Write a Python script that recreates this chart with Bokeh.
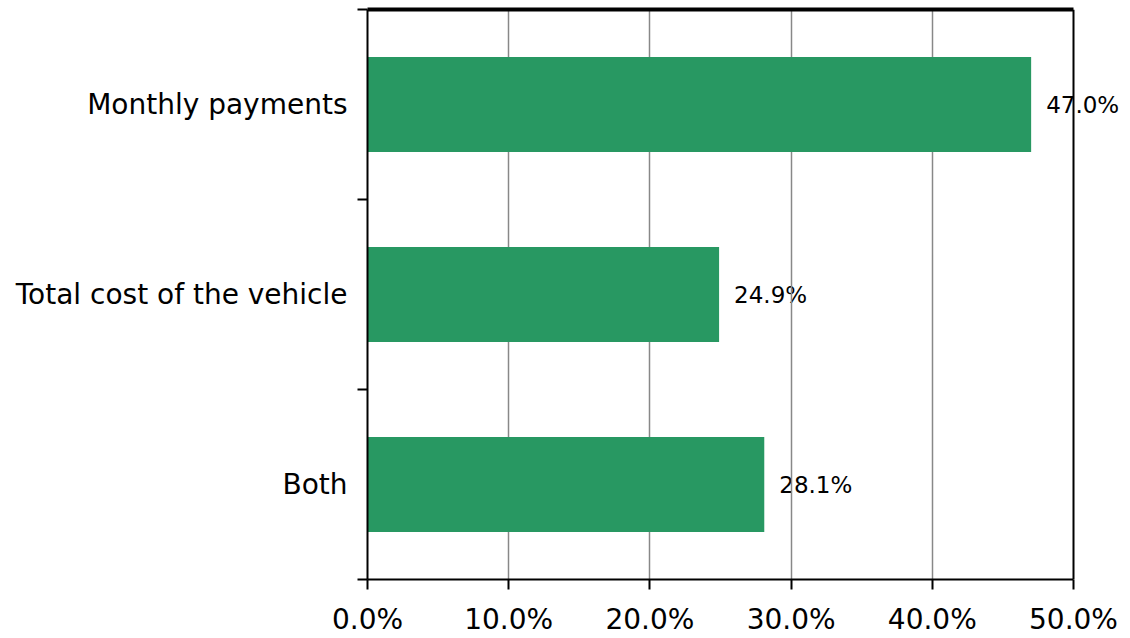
from bokeh.plotting import figure
from bokeh.models import ColumnDataSource, FixedTicker, Range1d, PrintfTickFormatter, Span
from bokeh.embed import file_html
from bokeh.resources import INLINE
from bokeh.core.properties import value

categories = ["Monthly payments", "Total cost of the vehicle", "Both"]
values = [47.0, 24.9, 28.1]
x_ticks = [0, 10, 20, 30, 40, 50]

n = len(categories)
ypos = [n - i - 0.5 for i in range(n)]
labels = ["%.1f%%" % v for v in values]
x_max = x_ticks[-1]

src = ColumnDataSource(dict(y=ypos, v=values, lab=labels, cat=categories))

FONT = "DejaVu Sans"

# layout (pixels)
W, H = 1122, 638
LEFT, TOP, BOTTOM = 367, 9, 59
AXIS_END = 1073           # pixel where x = x_max (right border of the chart box)
FRAME_RIGHT = W           # frame extended so the outside value label is not clipped
x_end = x_max * (FRAME_RIGHT - LEFT) / (AXIS_END - LEFT)

p = figure(width=W, height=H, output_backend="svg", toolbar_location=None,
           x_range=Range1d(0, x_end), y_range=Range1d(0, n),
           min_border_left=LEFT, min_border_right=W - FRAME_RIGHT,
           min_border_top=TOP, min_border_bottom=BOTTOM)
p.outline_line_color = None

p.hbar(y="y", right="v", left=0, height=0.5, source=src, color="#289862", line_color=None)
p.text(x="v", y="y", text="lab", source=src, x_offset=15, text_baseline="middle",
       text_align="left", text_font=value(FONT), text_font_size="23px",
       text_color="#000000", level="image")

# chart box: top and right borders limited to the data extent
p.add_layout(Span(location=x_max, dimension="height", line_color="#000000", line_width=2,
                  level="overlay"))
p.segment(x0=[0], y0=[n], x1=[x_max], y1=[n], line_color="#000000", line_width=4,
          level="overlay")

# x axis
p.xaxis.ticker = FixedTicker(ticks=x_ticks)
p.xaxis.bounds = (0, x_max)
p.xaxis.formatter = PrintfTickFormatter(format="%.1f%%")
p.xaxis.major_tick_out = 10
p.xaxis.major_tick_in = 0
p.xaxis.minor_tick_line_color = None
p.xaxis.axis_line_width = 2
p.xaxis.major_tick_line_width = 2
p.xaxis.major_label_text_font = FONT
p.xaxis.major_label_text_font_size = "28px"
p.xaxis.major_label_text_color = "#000000"
p.xaxis.major_label_standoff = 13

# y axis
p.yaxis.ticker = FixedTicker(ticks=ypos, minor_ticks=list(range(n + 1)))
p.yaxis.major_label_overrides = {y: c for y, c in zip(ypos, categories)}
p.yaxis.major_tick_line_color = None
p.yaxis.major_tick_out = 10
p.yaxis.minor_tick_out = 10
p.yaxis.minor_tick_in = 0
p.yaxis.minor_tick_line_width = 2
p.yaxis.axis_line_width = 2
p.yaxis.major_label_text_font = FONT
p.yaxis.major_label_text_font_size = "28px"
p.yaxis.major_label_text_color = "#000000"
p.yaxis.major_label_standoff = 10

p.xgrid.ticker = FixedTicker(ticks=x_ticks[1:-1])
p.xgrid.grid_line_color = "#888888"
p.xgrid.grid_line_width = 1.5
p.ygrid.grid_line_color = None

open("out.html", "w").write(file_html(p, INLINE))
